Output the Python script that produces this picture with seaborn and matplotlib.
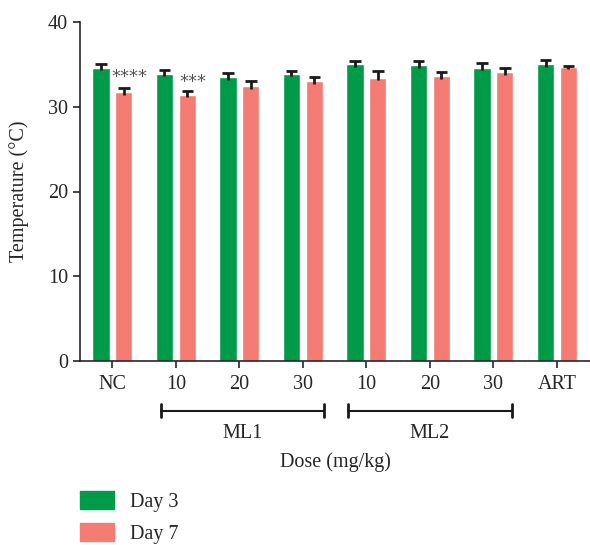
import numpy as np
import pandas as pd
import seaborn as sns
import matplotlib.pyplot as plt
from matplotlib.patches import Patch

# data
groups = ["NC", "ML1-10", "ML1-20", "ML1-30", "ML2-10", "ML2-20", "ML2-30", "ART"]
tick_labels = ["NC", "10", "20", "30", "10", "20", "30", "ART"]
day3 = [34.6, 33.9, 33.5, 33.9, 35.0, 34.9, 34.6, 35.0]
day3_err = [0.5, 0.4, 0.5, 0.3, 0.4, 0.5, 0.6, 0.5]
day7 = [31.7, 31.4, 32.4, 33.0, 33.4, 33.6, 34.1, 34.7]
day7_err = [0.5, 0.4, 0.6, 0.5, 0.8, 0.5, 0.5, 0.15]
stars = {"NC": "****", "ML1-10": "***"}

green = "#009B48"
pink = "#F47C72"
fs = 14.5

sns.set_style("ticks")
plt.rcParams["font.family"] = ["Liberation Serif", "DejaVu Serif"]

df = pd.DataFrame({
    "group": groups * 2,
    "day": ["Day 3"] * 8 + ["Day 7"] * 8,
    "temp": day3 + day7,
})

fig = plt.figure(figsize=(5.9, 5.45), dpi=100)
ax = fig.add_axes([80 / 590, 1 - 361 / 545, 510 / 590, 339 / 545])

sns.barplot(data=df, x="group", y="temp", hue="day", order=groups,
            palette=[green, pink], saturation=1, width=0.72, gap=0.25,
            errorbar=None, legend=False, ax=ax)

# upper-only error bars (T shape)
xs = np.arange(len(groups))
for off, vals, errs in [(-0.18, day3, day3_err), (0.18, day7, day7_err)]:
    vals = np.array(vals)
    tops = vals + np.array(errs)
    ax.vlines(xs + off, vals - 0.3, tops, color="#1a1a1a", lw=2)
    ax.hlines(tops, xs + off - 0.09, xs + off + 0.09, color="#1a1a1a", lw=2)

# significance stars
for g, s in stars.items():
    i = groups.index(g)
    ax.text(i + 0.27, day7[i] + (1.8 if len(s) == 4 else 1.5), s,
            ha="center", va="center", fontsize=13, color="#555555",
            family="DejaVu Sans")

ax.set_xlim(-0.51, 7.52)
ax.set_ylim(0, 40)
ax.set_yticks([0, 10, 20, 30, 40])
ax.set_xticks(xs)
ax.set_xticklabels(tick_labels, fontsize=fs)
ax.tick_params(axis="y", labelsize=fs, length=5, width=1.2)
ax.tick_params(axis="x", length=5, width=1.2, pad=5)
ax.set_ylabel("Temperature (°C)", fontsize=fs, labelpad=14)
ax.set_xlabel("Dose (mg/kg)", fontsize=fs, labelpad=42)
sns.despine(ax=ax)
for sp in ["left", "bottom"]:
    ax.spines[sp].set_linewidth(1.2)

# group brackets
trans = ax.get_xaxis_transform()
for label, x0, x1 in [("ML1", 0.76, 3.33), ("ML2", 3.71, 6.29)]:
    ax.plot([x0, x1], [-0.147, -0.147], color="#1a1a1a", lw=1.5,
            transform=trans, clip_on=False)
    for xe in (x0, x1):
        ax.plot([xe, xe], [-0.128, -0.166], color="#1a1a1a", lw=2,
                transform=trans, clip_on=False)
    ax.text((x0 + x1) / 2, -0.215, label, ha="center", va="center",
            fontsize=fs, transform=trans)

handles = [Patch(color=green, label="Day 3"), Patch(color=pink, label="Day 7")]
fig.legend(handles=handles, loc="upper left", bbox_to_anchor=(74 / 590, 1 - 485 / 545),
           frameon=False, fontsize=fs, handlelength=1.7, handleheight=1.0,
           labelspacing=0.55, handletextpad=0.8, borderaxespad=0, borderpad=0.3)

plt.savefig("out.png", dpi=100)
